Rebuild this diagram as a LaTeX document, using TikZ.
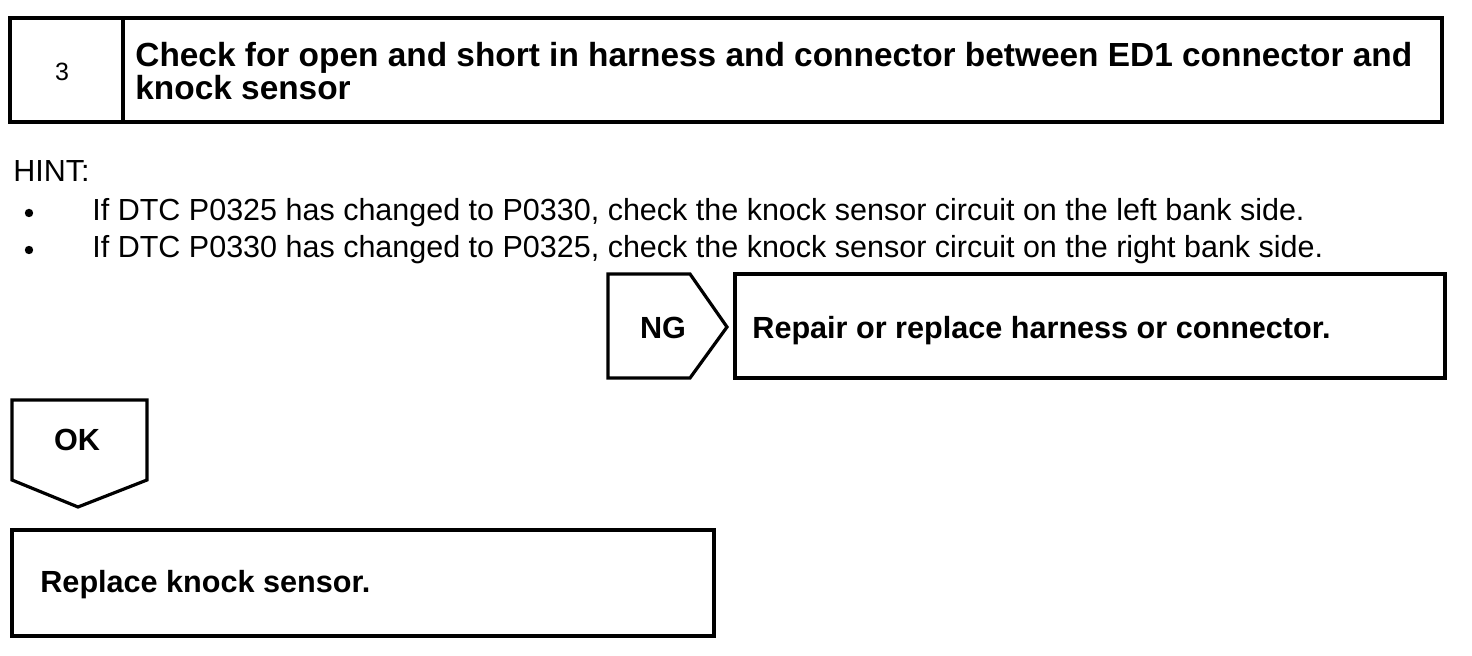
\documentclass[tikz,border=0pt]{standalone}
\usepackage{fontspec}
\setmainfont{Liberation Sans}
\usepackage{tikz}

\begin{document}
\begin{tikzpicture}[x=0.5pt,y=-0.5pt]
      \tikzstyle{every node}=[inner sep=0pt,font=\fontsize{15.25}{18}\selectfont]
      \tikzstyle{frame}=[line width=1.6pt,line join=miter]
      \tikzstyle{bold}=[font=\fontsize{15.3}{18}\selectfont\bfseries]
      \tikzstyle{head}=[anchor=base west,font=\fontsize{16.7}{17}\selectfont\bfseries]
      \tikzstyle{dot}=[circle,fill,minimum size=4.2pt]
      \useasboundingbox (0,0) rectangle (1472,656);
      % step header
      \draw[frame] (10,18) rectangle (1442,122);
      \draw[frame] (123,18) -- (123,122);
      \node (stepnum) at (62,72) [font=\fontsize{12.5}{14}\selectfont] {3};
      \node (title1) at (135,67) [head] {Check for open and short in harness and connector between ED1 connector and};
      \node (title2) at (135,100) [head] {knock sensor};
      % hint
      \node (hint) at (13,182) [anchor=base west] {HINT:};
      \node (bullet1) at (29,213) [dot] {};
      \node (item1) at (92,221) [anchor=base west] {If DTC P0325 has changed to P0330, check the knock sensor circuit on the left bank side.};
      \node (bullet2) at (29,250) [dot] {};
      \node (item2) at (92,258) [anchor=base west] {If DTC P0330 has changed to P0325, check the knock sensor circuit on the right bank side.};
      % NG branch
      \draw[frame] (608,274) -- (690,274) -- (727,327) -- (690,378) -- (608,378) -- cycle;
      \node (ng) at (663,328) [bold] {NG};
      \draw[frame] (735,274) rectangle (1445,378);
      \node (repair) at (752,339) [bold,anchor=base west] {Repair or replace harness or connector.};
      % OK branch
      \draw[frame] (12,400) -- (147,400) -- (147,480) -- (78,507) -- (12,480) -- cycle;
      \node (ok) at (77,440) [bold] {OK};
      \draw[frame] (12,530) rectangle (714,636);
      \node (replace) at (40,593) [bold,anchor=base west] {Replace knock sensor.};
\end{tikzpicture}
\end{document}
